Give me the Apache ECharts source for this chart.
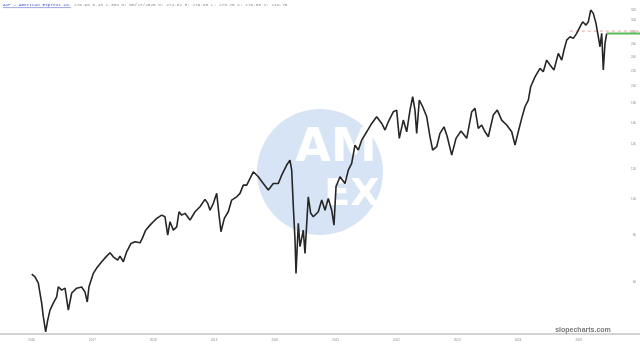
<!DOCTYPE html>
<html>
<head>
<meta charset="utf-8">
<script src="https://cdn.jsdelivr.net/npm/echarts@6/dist/echarts.min.js"></script>
<style>
html,body{margin:0;padding:0;background:#fff;}
#chart{width:640px;height:346px;}
</style>
</head>
<body>
<div id="chart"></div>
<script>
// Dates as decimal years
const years = [2015.880, 2015.934, 2015.989, 2016.016, 2016.044, 2016.071, 2016.110, 2016.143, 2016.181, 2016.235,
  2016.291, 2016.317, 2016.373, 2016.428, 2016.482, 2016.538, 2016.620, 2016.702, 2016.757, 2016.794,
  2016.822, 2016.893, 2016.949, 2017.031, 2017.113, 2017.168, 2017.222, 2017.294, 2017.332, 2017.387,
  2017.442, 2017.513, 2017.579, 2017.661, 2017.699, 2017.755, 2017.826, 2017.880, 2017.936, 2018.018,
  2018.072, 2018.117, 2018.155, 2018.209, 2018.265, 2018.303, 2018.347, 2018.401, 2018.484, 2018.566,
  2018.648, 2018.730, 2018.775, 2018.813, 2018.867, 2018.923, 2018.949, 2018.993, 2019.048, 2019.113,
  2019.169, 2019.252, 2019.306, 2019.360, 2019.416, 2019.525, 2019.607, 2019.689, 2019.771, 2019.854,
  2019.936, 2019.992, 2020.074, 2020.128, 2020.156, 2020.183, 2020.211, 2020.227, 2020.265, 2020.293,
  2020.347, 2020.375, 2020.429, 2020.469, 2020.512, 2020.594, 2020.650, 2020.704, 2020.758, 2020.814,
  2020.852, 2020.885, 2020.951, 2021.033, 2021.087, 2021.143, 2021.197, 2021.252, 2021.308, 2021.390,
  2021.472, 2021.554, 2021.637, 2021.691, 2021.745, 2021.827, 2021.883, 2021.926, 2021.992, 2022.048,
  2022.102, 2022.146, 2022.184, 2022.212, 2022.255, 2022.311, 2022.377, 2022.431, 2022.475, 2022.541,
  2022.595, 2022.661, 2022.715, 2022.788, 2022.859, 2022.941, 2023.035, 2023.117, 2023.171, 2023.225,
  2023.281, 2023.336, 2023.390, 2023.472, 2023.538, 2023.610, 2023.692, 2023.775, 2023.829, 2023.883,
  2023.939, 2023.993, 2024.048, 2024.087, 2024.158, 2024.240, 2024.294, 2024.350, 2024.405, 2024.470,
  2024.541, 2024.597, 2024.635, 2024.679, 2024.734, 2024.788, 2024.844, 2024.898, 2024.942, 2024.997,
  2025.035, 2025.074, 2025.117, 2025.161, 2025.199, 2025.227, 2025.255, 2025.281, 2025.309, 2025.337];

// AXP prices (adjusted)
const prices = [63.0, 62.0, 59.6, 56.1, 52.7, 48.5, 44.2, 47.5, 50.5, 52.7,
  54.8, 58.3, 57.1, 57.8, 50.5, 56.1, 57.8, 58.2, 56.4, 53.1,
  58.3, 63.3, 65.4, 68.0, 70.4, 71.9, 70.1, 68.7, 70.4, 68.0,
  72.3, 76.1, 76.9, 76.4, 78.5, 82.6, 85.2, 87.0, 88.8, 90.6,
  89.7, 80.1, 87.0, 82.6, 84.3, 92.5, 90.6, 91.6, 87.9, 92.5,
  95.4, 99.8, 97.4, 93.4, 97.4, 103.6, 94.4, 81.8, 88.8, 92.5,
  99.4, 101.4, 103.6, 109.0, 109.0, 118.3, 114.7, 110.1, 105.7, 110.1,
  110.1, 115.9, 123.3, 127.1, 119.5, 95.4, 77.7, 63.3, 86.1, 74.6,
  82.6, 71.6, 101.4, 91.6, 89.7, 92.5, 99.4, 93.4, 100.4, 93.4,
  85.2, 107.9, 114.7, 110.1, 119.5, 124.6, 139.4, 135.2, 143.8, 151.3,
  159.3, 165.9, 159.3, 152.9, 160.9, 171.1, 172.9, 145.3, 162.6, 151.3,
  172.9, 187.7, 172.9, 149.8, 183.9, 176.5, 165.9, 146.7, 135.2, 138.0,
  149.8, 156.0, 146.7, 131.1, 145.3, 152.0, 145.3, 171.1, 174.7, 154.5,
  157.7, 151.3, 146.7, 167.7, 172.9, 162.6, 157.7, 151.3, 139.4, 151.3,
  164.3, 176.5, 183.9, 199.6, 212.2, 223.5, 218.9, 235.2, 228.1, 221.2,
  245.1, 235.2, 250.2, 266.0, 271.5, 268.8, 277.2, 288.7, 297.7, 291.7,
  297.7, 320.0, 313.5, 294.8, 271.5, 255.3, 277.2, 221.2, 260.7, 277.0];

const yTickLabels = [60, 80, 100, 120, 140, 160, 180, 200, 220, 240, 260, 280, 300, 320];
const xTickLabels = [2016, 2017, 2018, 2019, 2020, 2021, 2022, 2023, 2024, 2025];

const lastPrice = 277.2;          // green current-price line
const lastDate = 2025.337;
const refLevel = 281.2;           // red dashed level
const refStart = 2024.73;

const headerTitle = 'AXP - American Express Co.';
const headerInfo = '276.96 6.43 2.38% D: 05/27/2025 O: 274.02 H: 279.66 L: 273.75 C: 276.60 V: 219.75';

const xMin = 2015.3586, xMax = 2025.8849;
const yMin = 43.6, yMax = 340.4;

const chart = echarts.init(document.getElementById('chart'), null, {renderer: 'canvas'});
chart.setOption({
  animation: false,
  backgroundColor: '#fff',
  grid: {left: 0, right: 0, top: 0, bottom: 12},
  xAxis: {
    type: 'value', min: xMin, max: xMax,
    axisLine: {onZero: false, lineStyle: {color: '#d4d4d4', width: 2}},
    axisTick: {show: false},
    splitLine: {show: false},
    axisLabel: {
      customValues: xTickLabels,
      formatter: v => String(Math.round(v)),
      fontSize: 3, color: '#888', align: 'right', padding: [0, 4, 0, 0], margin: 5
    }
  },
  yAxis: {
    type: 'log', position: 'right', min: yMin, max: yMax,
    axisLine: {show: false},
    axisTick: {show: false},
    splitLine: {show: false},
    axisLabel: {
      inside: true, customValues: yTickLabels,
      formatter: v => String(Math.round(v)),
      fontSize: 3, color: '#888', margin: 4
    }
  },
  series: [
    {
      type: 'line', z: 5,
      data: years.map((t, i) => [t, prices[i]]),
      symbol: 'none', showSymbol: false,
      lineStyle: {color: '#262626', width: 1.6}
    },
    {
      type: 'line', z: 4,
      data: [[refStart, refLevel], [xMax, refLevel]],
      symbol: 'none',
      lineStyle: {color: '#e8a0a0', width: 1, type: [3, 3]}
    },
    {
      type: 'line', z: 6,
      data: [[lastDate, lastPrice], [xMax, lastPrice]],
      symbol: 'none',
      lineStyle: {color: '#5cb85c', width: 2}
    }
  ],
  graphic: [
    {type: 'circle', z: 0, shape: {cx: 320, cy: 172, r: 63}, style: {fill: '#d6e4f5'}},
    {type: 'text', z: 1, style: {text: 'AM', x: 336, y: 149, fill: '#ffffff',
      font: 'bold 46px "DejaVu Sans"', align: 'center', verticalAlign: 'middle'}},
    {type: 'text', z: 1, style: {text: 'EX', x: 352, y: 195, fill: '#ffffff',
      font: 'bold 38px "DejaVu Sans"', align: 'center', verticalAlign: 'middle'}},
    {type: 'text', z: 10, style: {text: headerTitle, x: 3, y: 5, fill: '#3a57c9',
      font: '4.4px "Liberation Mono"', verticalAlign: 'middle'}},
    {type: 'line', z: 10, shape: {x1: 3, y1: 7.6, x2: 71, y2: 7.6}, style: {stroke: '#3a57c9', lineWidth: 0.5}},
    {type: 'text', z: 10, style: {text: headerInfo, x: 74, y: 5, fill: '#8a8a8a',
      font: '4.4px "Liberation Mono"', verticalAlign: 'middle'}},
    {type: 'text', z: 10, style: {text: 'slopecharts.com', x: 583, y: 330, fill: '#777',
      font: 'bold 7px "Liberation Sans"', align: 'center', verticalAlign: 'middle'}}
  ]
});
</script>
</body>
</html>
